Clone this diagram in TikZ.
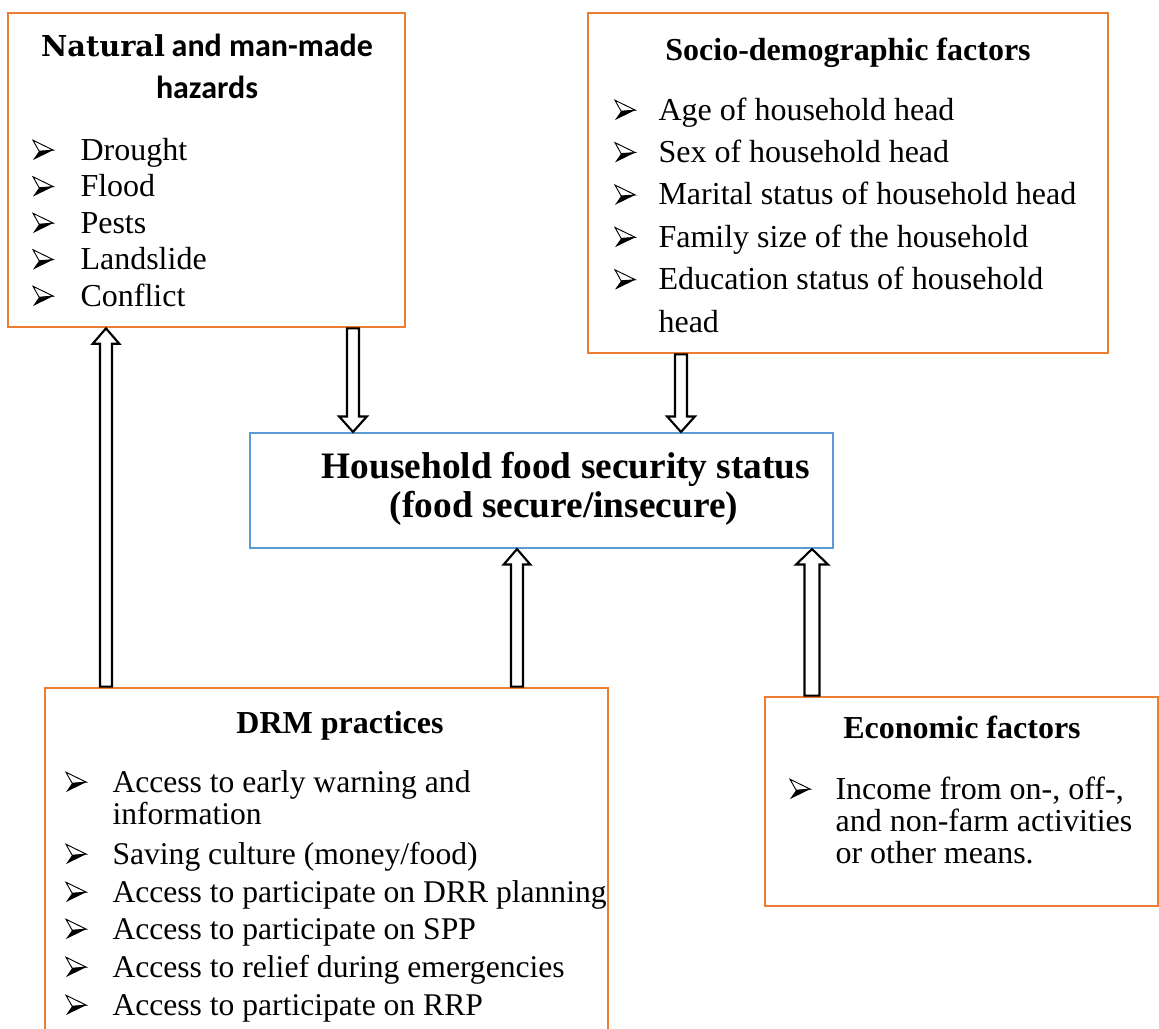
\documentclass[tikz,border=0pt]{standalone}
\usepackage{fontspec}
\setmainfont{Liberation Serif}
\newfontfamily\dejavuserif{DejaVu Serif}
\newfontfamily\carlito{Carlito}
\usepackage{xcolor}
\definecolor{boxorange}{RGB}{237, 125, 49}
\definecolor{boxblue}{RGB}{91, 155, 213}
\usetikzlibrary{calc, fit}

\tikzset{
  factorbox/.style={draw=boxorange, line width=1pt, inner sep=0pt},
  statusbox/.style={draw=boxblue, line width=0.8pt, inner sep=0pt},
  itemtext/.style={font=\fontsize{12}{14}\selectfont, anchor=base west, inner sep=0pt},
  headtext/.style={font=\fontsize{12}{14}\selectfont\bfseries, anchor=base, inner sep=0pt},
  blockline/.style={draw=black, line width=0.8pt, fill=white, line join=miter},
  arrowbullet/.pic={
    \draw[line width=0.35pt, fill=white, line join=miter] (0pt,7.4pt) -- (7.6pt,3.7pt) -- (2.3pt,3.3pt) -- cycle;
    \fill[black] (2.3pt,3.3pt) -- (7.6pt,3.7pt) -- (0pt,0pt) -- cycle;
  },
}

% hollow block arrow: start, end, half shaft, half head
\newcommand{\blockarrow}[4]{%
  \draw[blockline] let \p1=(#1), \p2=(#2), \n1={ifthenelse(\y2>\y1,1,-1)} in
    ({\x1-#3},\y1) -- ({\x1-#3},{\y2-\n1*5.8pt}) -- ({\x1-#4},{\y2-\n1*5.8pt})
    -- (\x1,\y2) -- ({\x1+#4},{\y2-\n1*5.8pt}) -- ({\x1+#3},{\y2-\n1*5.8pt})
    -- ({\x1+#3},\y1) -- cycle;}

\begin{document}
\begin{tikzpicture}[x=0.375pt, y=-0.375pt]
  \useasboundingbox (0,0) rectangle (1159,1028);

  % boxes
  \node[factorbox, fit={(8,13) (405,327)}] (haz) {};
  \node[factorbox, fit={(588,13) (1108,353)}] (socio) {};
  \node[statusbox, fit={(250,433) (833,548)}] (status) {};
  \node[factorbox, fit={(45,688) (608,1045)}] (drm) {};
  \node[factorbox, fit={(765,697) (1158,906)}] (econ) {};

  % hazards
  \node[inner sep=0pt, anchor=base] (hazhead) at (207,56)
    {{\dejavuserif\bfseries\fontsize{10.8}{12}\selectfont Natural} {\carlito\bfseries\fontsize{12}{14}\selectfont and man-made}};
  \node[inner sep=0pt, anchor=base, font=\carlito\bfseries\fontsize{12}{14}\selectfont] (hazhead2) at (207,98) {hazards};
  \foreach \lbl [count=\i] in {Drought, Flood, Pests, Landslide, Conflict} {
    \pic at (33,{160+36.5*(\i-1)}) {arrowbullet};
    \node[itemtext] (hazt\i) at (80,{160+36.5*(\i-1)}) {\lbl};
  }

  % socio-demographic
  \node[headtext] (sociohead) at (848,60) {Socio-demographic factors};
  \foreach \lbl [count=\i] in {Age of household head, Sex of household head,
      Marital status of household head, Family size of the household,
      Education status of household} {
    \pic at (615,{120+42.4*(\i-1)}) {arrowbullet};
    \node[itemtext] (sociot\i) at (658,{120+42.4*(\i-1)}) {\lbl};
  }
  \node[itemtext] (sociot6) at (658,332) {head};

  % status
  \node[headtext, font=\fontsize{14}{16}\selectfont\bfseries] (status1) at (566,478) {Household food security status};
  \node[headtext, font=\fontsize{14}{16}\selectfont\bfseries] (status2) at (564,517) {(food secure/insecure)};

  % DRM practices
  \node[headtext] (drmhead) at (340,733) {DRM practices};
  \foreach \y/\lbl [count=\i] in {792/Access to early warning and,
      864/{Saving culture (money/food)}, 902/Access to participate on DRR planning,
      939/Access to participate on SPP, 977/Access to relief during emergencies,
      1015/Access to participate on RRP} {
    \pic at (66,\y) {arrowbullet};
    \node[itemtext, font=\fontsize{11.85}{14}\selectfont] (drmt\i) at (112,\y) {\lbl};
  }
  \node[itemtext, font=\fontsize{11.85}{14}\selectfont] (drmt7) at (112,824) {information};

  % economic
  \node[headtext] (econhead) at (962,738) {Economic factors};
  \pic at (790,799) {arrowbullet};
  \node[itemtext] (econt1) at (835,799) {Income from on-, off-,};
  \node[itemtext] (econt2) at (835,831) {and non-farm activities};
  \node[itemtext] (econt3) at (835,863) {or other means.};

  % arrows
  \coordinate (xa) at (106,0);
  \coordinate (xb) at (353,0);
  \coordinate (xc) at (681,0);
  \coordinate (xd) at (517,0);
  \coordinate (xe) at (812,0);
  \blockarrow{xa |- drm.north}{xa |- haz.south}{2.25pt}{5pt}
  \blockarrow{xb |- haz.south}{xb |- status.north}{2.25pt}{5.2pt}
  \blockarrow{xc |- socio.south}{xc |- status.north}{2.25pt}{5.2pt}
  \blockarrow{xd |- drm.north}{xd |- status.south}{2.25pt}{5pt}
  \blockarrow{xe |- econ.north}{xe |- status.south}{2.8pt}{6pt}
\end{tikzpicture}
\end{document}
